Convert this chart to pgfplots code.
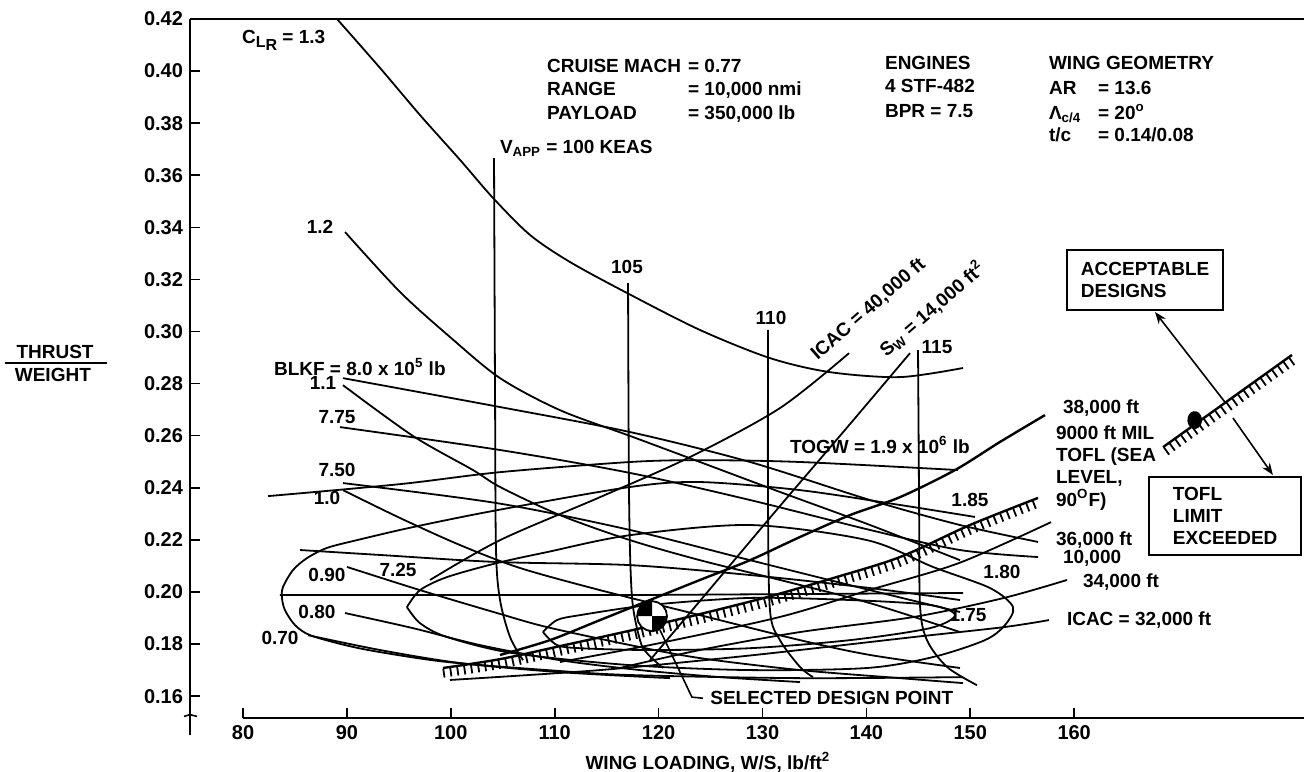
\documentclass[border=0pt]{standalone}
\usepackage{fontspec}
\setmainfont{Liberation Sans}
\usepackage{pgfplots}
\pgfplotsset{compat=1.18}
\usetikzlibrary{arrows.meta}

\newcommand{\tfont}{\fontsize{9.5}{11}\selectfont\bfseries}

\begin{document}
\begin{tikzpicture}[font=\tfont]
\begin{axis}[
  scale only axis, width=557.0pt, height=349.5pt,
  xmin=74.9, xmax=182.12, ymin=0.1516, ymax=0.42,
  clip=false,
  axis x line*=bottom, axis y line*=left,
  x axis line style={draw=none,-},
  y axis line style={line width=0.9pt,-},
  xtick={80,90,100,110,120,130,140,150,160},
  ytick={0.16,0.18,0.20,0.22,0.24,0.26,0.28,0.30,0.32,0.34,0.36,0.38,0.40,0.42},
  tick align=inside,
  major tick length=5pt,
  tick style={black, line width=0.8pt},
  /pgf/number format/assume math mode=true,
  yticklabel style={/pgf/number format/.cd, fixed, fixed zerofill, precision=2},
  ticklabel style={font=\fontsize{10}{12}\selectfont\bfseries},
  every axis plot/.append style={line width=0.9pt},
  cycle list={{black}},
  no markers,
]
% frame pieces
\draw[line width=0.9pt] (axis cs:74.9,0.42) -- (axis cs:182.12,0.42);
\draw[line width=0.9pt] (axis cs:80,0.1516) -- (axis cs:182.12,0.1516);
\draw[line width=0.9pt] (axis cs:74.9,0.1516) -- (axis cs:74.9,0.1450);
\draw[line width=0.8pt] (axis cs:74.32,0.1522) -- (axis cs:74.9,0.1529) -- (axis cs:75.57,0.1522);

% C_LR curves
\addplot[black, smooth] coordinates {(89.05,0.4200)(93.19,0.4012)(97.04,0.3831)(100.89,0.3659)(104.06,0.3513)(107.62,0.3371)(111.47,0.3267)(116.96,0.3148)(123.98,0.3006)(130.72,0.2898)(136.50,0.2844)(143.23,0.2825)(149.30,0.2860)};
\addplot[black, smooth] coordinates {(89.82,0.3382)(95.11,0.3152)(99.92,0.2979)(104.74,0.2821)(110.51,0.2698)(117.25,0.2599)(123.98,0.2499)(131.68,0.2384)(140.35,0.2257)(149.01,0.2122)};
\addplot[black, smooth] coordinates {(89.62,0.2794)(96.36,0.2599)(102.14,0.2468)(104.74,0.2403)(110.51,0.2295)(117.25,0.2199)(123.98,0.2122)(131.68,0.2046)(140.35,0.1957)(149.01,0.1846)};
\addplot[black, smooth] coordinates {(89.62,0.2391)(95.11,0.2284)(100.89,0.2180)(106.66,0.2092)(114.36,0.2007)(123.98,0.1911)(133.61,0.1815)(140.35,0.1758)(149.01,0.1708)};
\addplot[black, smooth] coordinates {(90.01,0.2096)(97.04,0.2007)(104.45,0.1919)(109.26,0.1865)(117.25,0.1796)(123.98,0.1746)(133.61,0.1700)(143.23,0.1669)(149.30,0.1650)};
\addplot[black, smooth] coordinates {(89.82,0.1919)(96.36,0.1861)(102.81,0.1796)(110.51,0.1738)(118.21,0.1700)(125.91,0.1673)(133.61,0.1654)};
\addplot[black, smooth] coordinates {(86.26,0.1834)(93.19,0.1777)(100.89,0.1727)(110.51,0.1692)(121.10,0.1669)};

% BLKF lines
\addplot[black, smooth] coordinates {(89.62,0.2821)(104.74,0.2710)(117.25,0.2614)(128.80,0.2499)(140.35,0.2353)(149.01,0.2257)(156.52,0.2192)};
\addplot[black, smooth] coordinates {(89.34,0.2633)(104.74,0.2545)(117.25,0.2457)(128.80,0.2353)(140.35,0.2238)(149.01,0.2161)(156.52,0.2134)};
\addplot[black, smooth] coordinates {(89.62,0.2418)(104.45,0.2341)(117.25,0.2238)(128.80,0.2122)(140.35,0.2007)(149.01,0.1923)};
\addplot[black, smooth] coordinates {(85.49,0.2161)(93.19,0.2142)(104.45,0.2115)(117.25,0.2103)(128.80,0.2065)(140.35,0.2015)(149.01,0.1969)};
\addplot[black, sharp plot] coordinates {(83.56,0.1988)(117.25,0.1988)(133.61,0.1992)(149.30,0.1996)};

% TOGW contours
\addplot[black, smooth] coordinates {(82.41,0.2368)(95.11,0.2414)(104.74,0.2460)(117.25,0.2499)(123.98,0.2506)(133.61,0.2499)(148.82,0.2468)};
\addplot[black, smooth] coordinates {(150.45,0.2288)(143.23,0.2334)(133.61,0.2391)(123.98,0.2422)(117.25,0.2403)(104.45,0.2314)(96.36,0.2249)(90.97,0.2199)(88.08,0.2169)(86.16,0.2130)(84.81,0.2084)(83.85,0.2019)(83.75,0.1977)(84.04,0.1930)(85.00,0.1873)(86.45,0.1834)(89.82,0.1796)(93.19,0.1769)(99.63,0.1731)(109.26,0.1700)(117.25,0.1681)(133.61,0.1669)(149.30,0.1673)};
\addplot[black, smooth] coordinates {(95.78,0.1942)(97.04,0.2007)(99.63,0.2057)(104.45,0.2111)(109.26,0.2153)(117.25,0.2218)(128.80,0.2257)(140.06,0.2199)(146.41,0.2096)(151.90,0.2015)(154.11,0.1942)(153.34,0.1873)(151.41,0.1815)(146.41,0.1750)(140.06,0.1708)(128.80,0.1700)(117.25,0.1719)(105.99,0.1765)(99.63,0.1827)(97.04,0.1880)(95.78,0.1942)};
\addplot[black, smooth] coordinates {(108.87,0.1846)(110.22,0.1892)(112.44,0.1911)(119.17,0.1950)(128.80,0.1977)(138.42,0.1969)(146.12,0.1950)(148.53,0.1911)(146.12,0.1861)(138.42,0.1815)(128.80,0.1784)(119.17,0.1777)(112.44,0.1784)(110.22,0.1796)(108.87,0.1846)};

% V_APP lines
\addplot[black, smooth] coordinates {(104.16,0.3666)(104.26,0.2737)(104.35,0.2161)(104.74,0.1969)(105.70,0.1827)(106.95,0.1738)};
\addplot[black, smooth] coordinates {(117.06,0.3186)(117.16,0.2353)(117.44,0.1980)(118.21,0.1815)(118.88,0.1765)(120.42,0.1708)};
\addplot[black, smooth] coordinates {(130.53,0.3006)(130.53,0.2353)(130.72,0.1930)(131.68,0.1815)(133.61,0.1712)(134.86,0.1673)};
\addplot[black, smooth] coordinates {(144.97,0.2929)(145.07,0.2353)(145.16,0.1950)(145.83,0.1815)(147.76,0.1712)(150.64,0.1642)};

% ICAC and wing area lines
\addplot[black, smooth] coordinates {(98.00,0.2046)(104.74,0.2199)(114.36,0.2364)(123.02,0.2518)(131.68,0.2706)(138.33,0.2917)};
\addplot[black, smooth] coordinates {(119.17,0.1738)(125.43,0.2034)(131.68,0.2330)(137.94,0.2622)(144.20,0.2917)};
\addplot[black, smooth, line width=1.2pt] coordinates {(104.74,0.1758)(109.55,0.1815)(114.36,0.1892)(119.17,0.1969)(123.98,0.2046)(128.80,0.2122)(133.61,0.2211)(138.42,0.2295)(143.23,0.2364)(148.53,0.2468)(152.86,0.2576)(157.19,0.2679)};
\addplot[black, smooth] coordinates {(110.51,0.1731)(119.17,0.1796)(131.68,0.1904)(140.25,0.2007)(148.91,0.2111)(157.77,0.2268)};
\addplot[black, smooth] coordinates {(116.28,0.1708)(123.98,0.1777)(133.61,0.1846)(144.58,0.1904)(153.24,0.1977)(159.31,0.2046)};
\addplot[black, smooth] coordinates {(99.92,0.1662)(114.36,0.1700)(127.35,0.1750)(136.02,0.1788)(144.58,0.1827)(153.24,0.1865)(157.58,0.1892)};

% TOFL limit (hatched)
\addplot[black, smooth, line width=1.2pt]
  coordinates {(99.25,0.1708)(104.74,0.1742)(110.51,0.1792)(117.54,0.1854)(123.98,0.1915)(130.43,0.1980)(136.78,0.2053)(143.23,0.2134)(149.97,0.2257)(156.52,0.2361)};
\addplot[black, smooth, line width=4.5pt, dash pattern=on 0.9pt off 2.6pt, yshift=-2.6pt]
  coordinates {(99.25,0.1708)(104.74,0.1742)(110.51,0.1792)(117.54,0.1854)(123.98,0.1915)(130.43,0.1980)(136.78,0.2053)(143.23,0.2134)(149.97,0.2257)(156.52,0.2361)};
% legend hatched line
\addplot[black, line width=1.2pt] coordinates {(168.55,0.2556)(180.96,0.2910)};
\addplot[black, line width=4.5pt, dash pattern=on 0.9pt off 2.6pt, xshift=1.4pt, yshift=-2.2pt] coordinates {(168.55,0.2556)(180.96,0.2910)};
\addplot[black, only marks, mark=*, mark size=4pt, mark options={xscale=0.8, rotate=30}] coordinates {(171.6,0.2660)};

% selected design point: white disc with two black quadrants
\addplot[draw=black, fill=white, line width=0.9pt] coordinates {(120.81,0.1907)(120.70,0.1929)(120.39,0.1948)(119.92,0.1960)(119.37,0.1965)(118.82,0.1960)(118.35,0.1948)(118.04,0.1929)(117.93,0.1907)(118.04,0.1885)(118.35,0.1866)(118.82,0.1854)(119.37,0.1849)(119.92,0.1854)(120.39,0.1866)(120.70,0.1885)(120.81,0.1907)(120.70,0.1929)};
\addplot[draw=none, fill=black] coordinates {(119.37,0.1907)(119.37,0.1965)(118.82,0.1960)(118.35,0.1948)(118.04,0.1929)(117.93,0.1907)(119.37,0.1907)};
\addplot[draw=none, fill=black] coordinates {(119.37,0.1907)(119.37,0.1849)(119.92,0.1854)(120.39,0.1866)(120.70,0.1885)(120.81,0.1907)(119.37,0.1907)};
\draw[line width=0.8pt] (axis cs:120.13,0.1854) -- (axis cs:123.21,0.1596) -- (axis cs:124.27,0.1592);
\node[anchor=west] at (axis cs:124.3,0.1592) {SELECTED DESIGN POINT};

% arrows of the legend
\draw[line width=0.8pt, -{Stealth[length=6pt]}] (axis cs:174.51,0.2729) -- (axis cs:167.78,0.3075);
\draw[line width=0.8pt, -{Stealth[length=6pt]}] (axis cs:175.28,0.2668) -- (axis cs:179.13,0.2449);
\node[draw, line width=0.8pt, align=left, text width=64pt, inner xsep=7pt, minimum height=30pt] at (axis cs:166.81,0.3198) {ACCEPTABLE\\DESIGNS};
\node[draw, line width=0.8pt, align=left, text width=52pt, inner xsep=12pt, minimum height=39pt] at (axis cs:174.51,0.2291) {TOFL\\LIMIT\\EXCEEDED};

% text annotations
\node[anchor=west] at (axis cs:79.23,0.4119) {C\raisebox{-0.4ex}{\fontsize{8}{8}\selectfont L\raisebox{-0.4ex}{R}} = 1.3};
\node[anchor=base west] at (axis cs:108.59,0.3996) {CRUISE MACH};
\node[anchor=base west] at (axis cs:122.16,0.3996) {= 0.77};
\node[anchor=base west] at (axis cs:108.59,0.3908) {RANGE};
\node[anchor=base west] at (axis cs:122.16,0.3908) {= 10,000 nmi};
\node[anchor=base west] at (axis cs:108.59,0.3816) {PAYLOAD};
\node[anchor=base west] at (axis cs:122.16,0.3816) {= 350,000 lb};
\node[anchor=base west] at (axis cs:141.12,0.4008) {ENGINES};
\node[anchor=base west] at (axis cs:141.12,0.3916) {4 STF-482};
\node[anchor=base west] at (axis cs:141.12,0.3820) {BPR = 7.5};
\node[anchor=base west] at (axis cs:156.90,0.4008) {WING GEOMETRY};
\node[anchor=base west] at (axis cs:156.90,0.3912) {AR};
\node[anchor=base west] at (axis cs:161.62,0.3912) {= 13.6};
\node[anchor=base west] at (axis cs:156.90,0.3816) {Λ\textsubscript{c/4}};
\node[anchor=base west] at (axis cs:161.62,0.3816) {= 20\textsuperscript{o}};
\node[anchor=base west] at (axis cs:156.90,0.3731) {t/c};
\node[anchor=base west] at (axis cs:161.62,0.3731) {= 0.14/0.08};
\node[anchor=base west] at (axis cs:104.06,0.3685) {V\textsubscript{APP} = 100 KEAS};
\node at (axis cs:116.96,0.3248) {105};
\node at (axis cs:130.82,0.3052) {110};
\node at (axis cs:146.80,0.2940) {115};
\node at (axis cs:87.41,0.3401) {1.2};
\node[anchor=west] at (axis cs:82.31,0.2864) {BLKF = 8.0 x 10\textsuperscript{5} lb};
\node at (axis cs:87.70,0.2802) {1.1};
\node at (axis cs:89.05,0.2672) {7.75};
\node at (axis cs:89.05,0.2468) {7.50};
\node at (axis cs:88.08,0.2360) {1.0};
\node at (axis cs:88.08,0.2065) {0.90};
\node at (axis cs:94.92,0.2084) {7.25};
\node at (axis cs:87.12,0.1923) {0.80};
\node at (axis cs:83.56,0.1823) {0.70};
\node[anchor=west] at (axis cs:131.97,0.2564) {TOGW = 1.9 x 10\textsuperscript{6} lb};
\node[anchor=west] at (axis cs:158.25,0.2706) {38,000 ft};
\node[anchor=west] at (axis cs:157.58,0.2610) {9000 ft MIL};
\node[anchor=west] at (axis cs:157.58,0.2518) {TOFL (SEA};
\node[anchor=west] at (axis cs:157.58,0.2437) {LEVEL,};
\node[anchor=west] at (axis cs:157.58,0.2353) {90\textsuperscript{O}F)};
\node at (axis cs:149.97,0.2353) {1.85};
\node[anchor=west] at (axis cs:157.58,0.2199) {36,000 ft};
\node[anchor=west] at (axis cs:158.25,0.2130) {10,000};
\node at (axis cs:153.05,0.2076) {1.80};
\node[anchor=west] at (axis cs:160.17,0.2038) {34,000 ft};
\node at (axis cs:149.78,0.1911) {1.75};
\node[anchor=west] at (axis cs:158.63,0.1892) {ICAC = 32,000 ft};
\node[rotate=41, inner sep=0pt] at (axis cs:140.2,0.3085) {ICAC = 40,000 ft};
\node[rotate=41, inner sep=0pt] at (axis cs:146.3,0.3088) {S\textsubscript{W} = 14,000 ft\textsuperscript{2}};

% axis titles
\node at (axis cs:61.91,0.2921) {THRUST};
\node at (axis cs:61.70,0.2833) {WEIGHT};
\draw[line width=0.8pt] (axis cs:57.09,0.2879) -- (axis cs:66.91,0.2879);
\node at (axis cs:124.75,0.1347) {WING LOADING, W/S, lb/ft\textsuperscript{2}};

\coordinate (bbl) at (axis cs:56.61,0.1312);
\coordinate (btr) at (axis cs:182.12,0.4273);
\end{axis}
\pgfresetboundingbox
\path (bbl) rectangle (btr);
\end{tikzpicture}
\end{document}
